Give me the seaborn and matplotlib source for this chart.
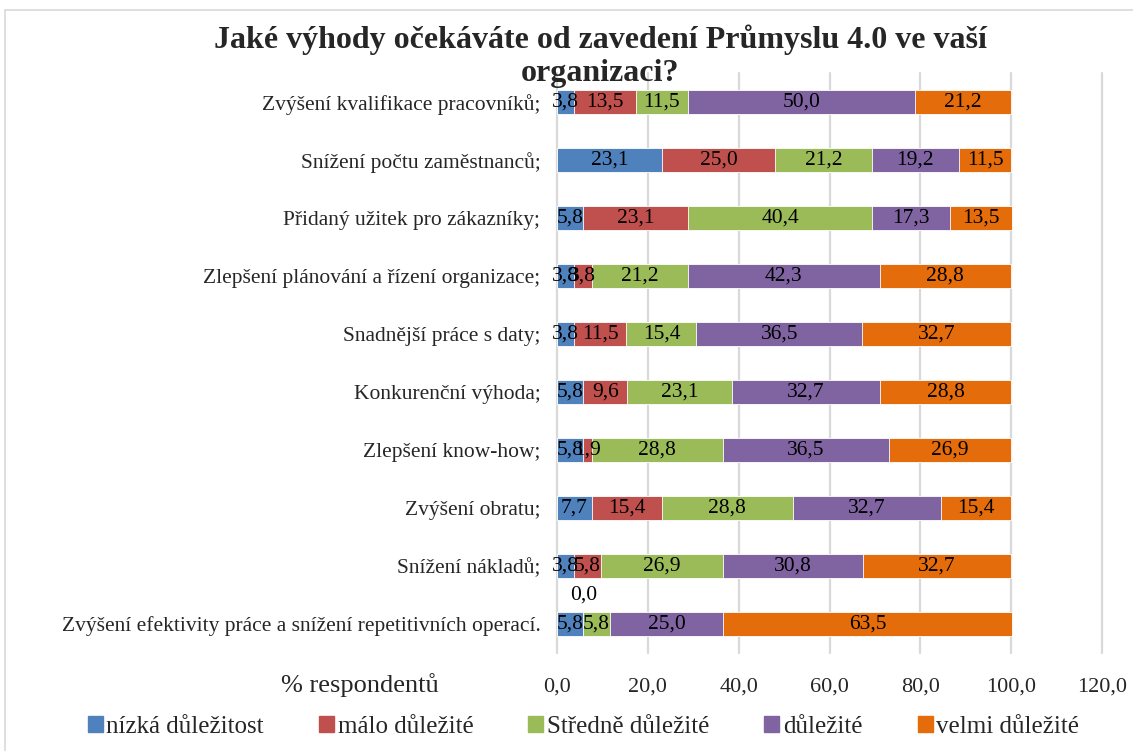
import pandas as pd
import numpy as np
import matplotlib.pyplot as plt
import matplotlib.patches as mpatches
import seaborn as sns

# --- data ---
categories = [
    "Zvýšení kvalifikace pracovníků;",
    "Snížení počtu zaměstnanců;",
    "Přidaný užitek pro zákazníky;",
    "Zlepšení plánování a řízení organizace;",
    "Snadnější práce s daty;",
    "Konkurenční výhoda;",
    "Zlepšení know-how;",
    "Zvýšení obratu;",
    "Snížení nákladů;",
    "Zvýšení efektivity práce a snížení repetitivních operací.",
]
levels = ["nízká důležitost", "málo důležité", "Středně důležité", "důležité", "velmi důležité"]
nizka = [3.8, 23.1, 5.8, 3.8, 3.8, 5.8, 5.8, 7.7, 3.8, 5.8]
malo = [13.5, 25.0, 23.1, 3.8, 11.5, 9.6, 1.9, 15.4, 5.8, 0.0]
stredne = [11.5, 21.2, 40.4, 21.2, 15.4, 23.1, 28.8, 28.8, 26.9, 5.8]
dulezite = [50.0, 19.2, 17.3, 42.3, 36.5, 32.7, 36.5, 32.7, 30.8, 25.0]
velmi = [21.2, 11.5, 13.5, 28.8, 32.7, 28.8, 26.9, 15.4, 32.7, 63.5]
colors = ["#4F81BD", "#C0504D", "#9BBB59", "#8064A2", "#E46C0A"]
xticks = [0, 20, 40, 60, 80, 100, 120]

sns.set_theme(style="white")
plt.rcParams['font.family'] = ['Liberation Serif', 'DejaVu Serif']

# long table with cumulative widths (stack by overdrawing widest first)
vals = np.array([nizka, malo, stredne, dulezite, velmi])
cum = vals.cumsum(axis=0)
rows = []
for li, lev in enumerate(levels):
    for ci, cat in enumerate(categories):
        rows.append({"category": cat, "level": lev, "value": vals[li, ci],
                     "cum": cum[li, ci], "start": cum[li, ci] - vals[li, ci]})
df = pd.DataFrame(rows)

fig = plt.figure(figsize=(11.33, 7.51), dpi=100)
ax = fig.add_axes([0.4916, 0.1305, 0.4811, 0.7723])

sns.barplot(data=df, x="cum", y="category", hue="level", order=categories,
            hue_order=levels[::-1], palette=dict(zip(levels, colors)),
            dodge=False, width=0.4, orient="h", ax=ax, legend=False,
            edgecolor="white", linewidth=0.6, saturation=1, zorder=2)

# segment labels
for _, r in df.iterrows():
    yi = categories.index(r["category"])
    txt = f"{r['value']:.1f}".replace(".", ",")
    if r["value"] == 0:
        ax.text(r["start"], yi - 0.5, txt, ha="center", va="center", fontsize=15.5, color="black")
    else:
        ax.text(r["start"] + r["value"] / 2, yi, txt, ha="center", va="center",
                fontsize=15.5, color="black", zorder=3)

ax.set_xlim(0, 120)
ax.set_ylim(9.5, -0.5)
ax.set_xticks(xticks)
ax.set_xticklabels([f"{t:.1f}".replace(".", ",") for t in xticks], fontsize=16)
ax.tick_params(axis="x", length=0, pad=18)
ax.tick_params(axis="y", length=0, pad=12, labelsize=15.5)
ax.set_xlabel("")
ax.set_ylabel("")
ax.grid(axis="x", color="#D9D9D9", linewidth=1.6, zorder=0)
ax.set_axisbelow(True)
for s in ax.spines.values():
    s.set_visible(False)
for line in ax.get_xgridlines():
    line.set_clip_on(False)

fig.text(0.53, 0.925, "Jaké výhody očekáváte od zavedení Průmyslu 4.0 ve vaší\norganizaci?",
         ha="center", va="center", fontsize=23, fontweight="bold", linespacing=1.2)
fig.text(0.318, 0.088, "% respondentů", ha="center", va="center", fontsize=19)

handles = [mpatches.Patch(color=c, label=l) for c, l in zip(colors, levels)]
fig.legend(handles=handles, loc="center", bbox_to_anchor=(0.515, 0.032), ncol=5,
           frameon=False, handlelength=0.6, handleheight=0.6, handletextpad=0.15,
           columnspacing=2.2, fontsize=18)

# thin chart border
fig.add_artist(mpatches.Rectangle((0.004, -0.1), 1.2, 1.087, transform=fig.transFigure,
                                  fill=False, edgecolor="#D9D9D9", linewidth=1.2))

fig.savefig("out.png", dpi=100)
